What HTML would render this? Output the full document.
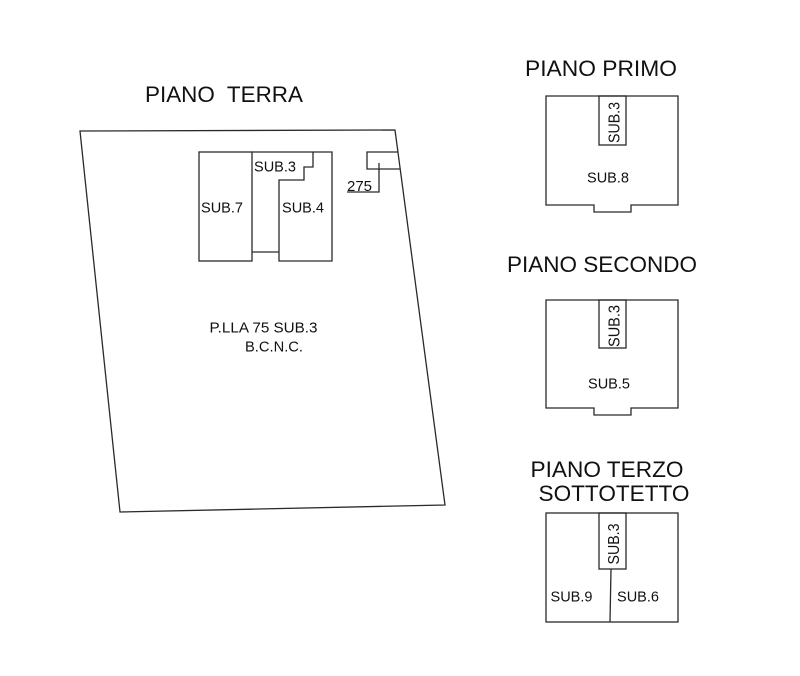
<!DOCTYPE html>
<html>
<head>
<meta charset="utf-8">
<style>
html,body{margin:0;padding:0;background:#fff;width:800px;height:676px;overflow:hidden}
svg{display:block;filter:blur(.35px)}
text{font-family:"Liberation Sans",sans-serif;fill:#111}
.t{font-size:22.5px}
.s{font-size:14.5px}
.r{font-size:16px}
path,line,polyline,polygon,rect{fill:none;stroke:#2a2a2a;stroke-width:1.3}
</style>
</head>
<body>
<svg width="800" height="676" viewBox="0 0 800 676" xmlns="http://www.w3.org/2000/svg">
<!-- Piano terra -->
<text class="t" x="145" y="102" textLength="158" lengthAdjust="spacingAndGlyphs" xml:space="preserve">PIANO  TERRA</text>
<polygon points="80,131 395,130 445,505 120,512"/>
<rect x="199" y="152" width="53" height="109"/>
<path d="M252,152 H332 V261 H279 V180 H304 V167 H313 V152"/>
<line x1="252" y1="252" x2="279" y2="252"/>
<polyline points="398,152 367,152 367,169 399.5,169"/>
<polyline points="379,163 379,192 347,192"/>
<text class="s" x="254" y="171.5" textLength="42" lengthAdjust="spacingAndGlyphs">SUB.3</text>
<text class="s" x="201" y="212.5" textLength="42" lengthAdjust="spacingAndGlyphs">SUB.7</text>
<text class="s" x="282" y="212.5" textLength="42" lengthAdjust="spacingAndGlyphs">SUB.4</text>
<text class="s" x="347" y="191" textLength="25" lengthAdjust="spacingAndGlyphs" style="font-size:15px">275</text>
<text class="s" x="209.5" y="332.5" textLength="108" lengthAdjust="spacingAndGlyphs">P.LLA 75 SUB.3</text>
<text class="s" x="245" y="351.5" textLength="58" lengthAdjust="spacingAndGlyphs">B.C.N.C.</text>

<!-- Piano primo -->
<text class="t" x="525" y="76" textLength="152" lengthAdjust="spacingAndGlyphs">PIANO PRIMO</text>
<path d="M546,96 H678 V205 H631 V212 H594 V205 H546 Z"/>
<rect x="599" y="96" width="27" height="49"/>
<text class="r" transform="translate(619.5,143) rotate(-90)" x="0" y="0" textLength="41" lengthAdjust="spacingAndGlyphs">SUB.3</text>
<text class="s" x="587" y="182.5" textLength="42" lengthAdjust="spacingAndGlyphs">SUB.8</text>

<!-- Piano secondo -->
<text class="t" x="507" y="272" textLength="190" lengthAdjust="spacingAndGlyphs">PIANO SECONDO</text>
<path d="M546,300 H678 V408 H631 V415 H594 V408 H546 Z"/>
<rect x="599" y="300" width="27" height="48"/>
<text class="r" transform="translate(619.5,347) rotate(-90)" x="0" y="0" textLength="42" lengthAdjust="spacingAndGlyphs">SUB.3</text>
<text class="s" x="588" y="388.5" textLength="42" lengthAdjust="spacingAndGlyphs">SUB.5</text>

<!-- Piano terzo -->
<text class="t" x="530.5" y="477" textLength="153" lengthAdjust="spacingAndGlyphs">PIANO TERZO</text>
<text class="t" x="538.5" y="501" textLength="151" lengthAdjust="spacingAndGlyphs">SOTTOTETTO</text>
<rect x="546" y="513" width="132" height="109"/>
<rect x="599" y="513" width="27" height="56"/>
<polyline points="611,569 610,622"/>
<text class="r" transform="translate(619,564.5) rotate(-90)" x="0" y="0" textLength="41" lengthAdjust="spacingAndGlyphs">SUB.3</text>
<text class="s" x="550.5" y="601.5" textLength="42" lengthAdjust="spacingAndGlyphs">SUB.9</text>
<text class="s" x="617" y="601.5" textLength="42" lengthAdjust="spacingAndGlyphs">SUB.6</text>
</svg>
</body>
</html>
